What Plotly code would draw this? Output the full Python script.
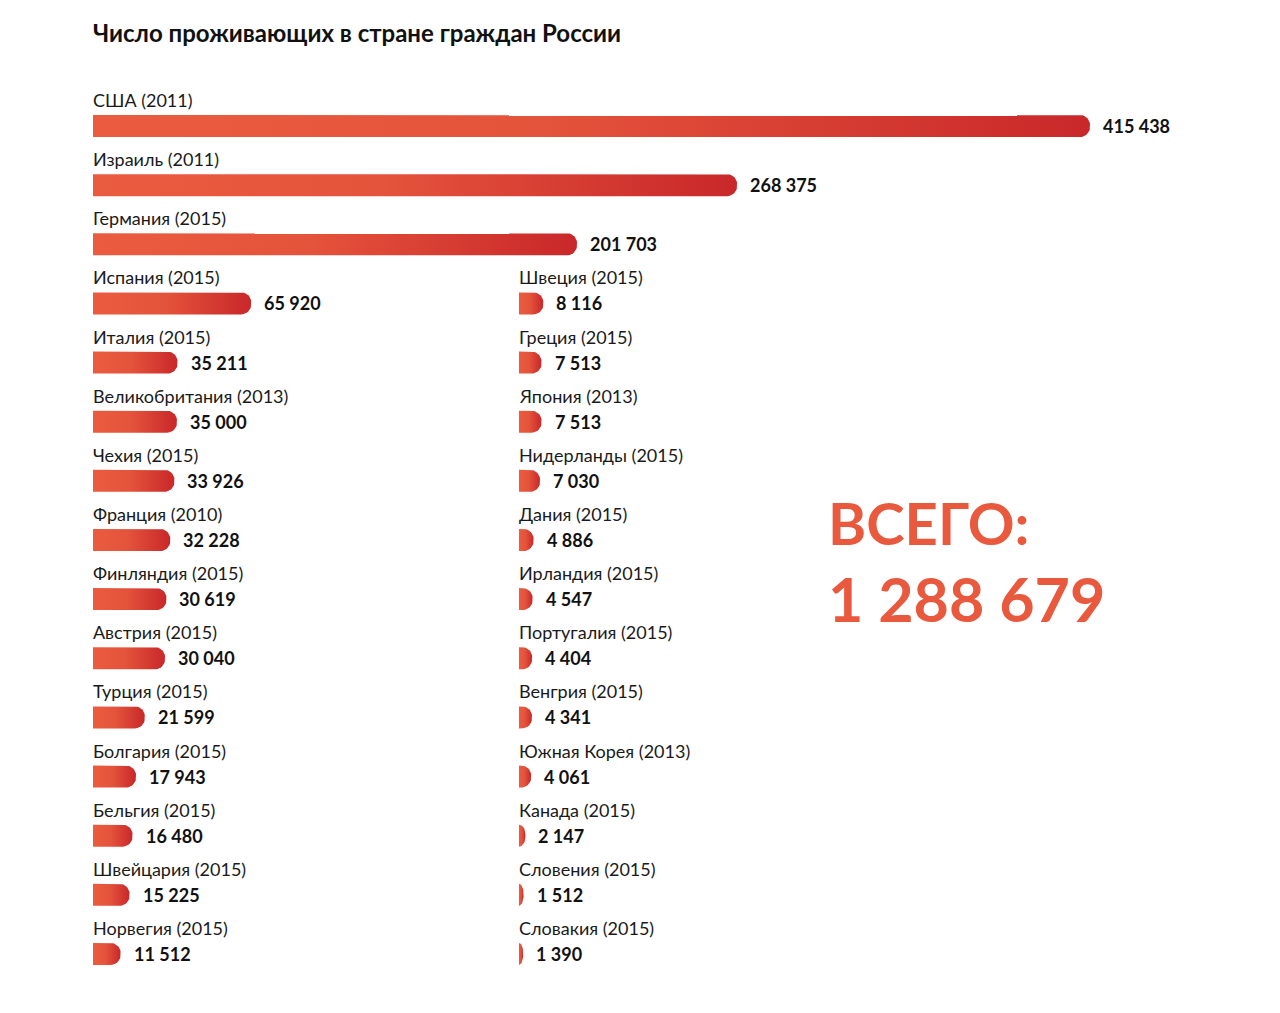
import math
import plotly.graph_objects as go

# ---------------- data ----------------
left_countries = ["США", "Израиль", "Германия", "Испания", "Италия", "Великобритания",
                  "Чехия", "Франция", "Финляндия", "Австрия", "Турция", "Болгария",
                  "Бельгия", "Швейцария", "Норвегия"]
left_years = [2011, 2011, 2015, 2015, 2015, 2013, 2015, 2010, 2015, 2015, 2015, 2015,
              2015, 2015, 2015]
left_values = [415438, 268375, 201703, 65920, 35211, 35000, 33926, 32228, 30619, 30040,
               21599, 17943, 16480, 15225, 11512]

right_countries = ["Швеция", "Греция", "Япония", "Нидерланды", "Дания", "Ирландия",
                   "Португалия", "Венгрия", "Южная Корея", "Канада", "Словения", "Словакия"]
right_years = [2015, 2015, 2013, 2015, 2015, 2015, 2015, 2015, 2013, 2015, 2015, 2015]
right_values = [8116, 7513, 7513, 7030, 4886, 4547, 4404, 4341, 4061, 2147, 1512, 1390]
right_row_offset = 3

title_text = "Число проживающих в стране граждан России"
total_label = "ВСЕГО:"

# ---------------- geometry / style ----------------
W, H = 1280, 1013
ROW_PX = 59.14
ROW0_PX = 126
LEFT_X0 = 93
RIGHT_X0 = 519
K_LEFT = 0.0024      # px per person (left column)
K_RIGHT = 0.003      # px per person (right column)
BAR_HALF_PX = 11
CORNER_PX = 10
FONT = "Lato"
RED = "#E8593D"
GRAD = [[0, "#EA5C3F"], [0.45, "#E4533B"], [1, "#C9282A"]]

y_top = -ROW0_PX / ROW_PX
y_bottom = y_top + H / ROW_PX


def fmt(v):
    return f"{v:,}".replace(",", " ")


def bar_polygon(v, row, k):
    """Bar outline in data coordinates: square left end, rounded right end."""
    w = v * k
    rx = min(CORNER_PX, w)
    ry = CORNER_PX
    h = BAR_HALF_PX
    pts = [(0, -h), (w - rx, -h)]
    cx, cy = w - rx, -h + ry
    for j in range(1, 13):
        p = math.pi / 2 * j / 12
        pts.append((cx + rx * math.sin(p), cy - ry * math.cos(p)))
    cx, cy = w - rx, h - ry
    for j in range(0, 13):
        p = math.pi / 2 * j / 12
        pts.append((cx + rx * math.cos(p), cy + ry * math.sin(p)))
    pts.append((0, h))
    pts.append((0, -h))
    xs = [px / k for px, _ in pts]
    ys = [row + py / ROW_PX for _, py in pts]
    return xs, ys


fig = go.Figure()
annotations = []

columns = [
    (left_countries, left_years, left_values, 0, K_LEFT, "x"),
    (right_countries, right_years, right_values, right_row_offset, K_RIGHT, "x2"),
]

for names, years, values, off, k, xref in columns:
    for i, (nm, yr, v) in enumerate(zip(names, years, values)):
        row = i + off
        xs, ys = bar_polygon(v, row, k)
        fig.add_trace(go.Scatter(
            x=xs, y=ys, mode="lines", fill="toself",
            line=dict(width=0, color="rgba(0,0,0,0)"),
            fillgradient=dict(type="horizontal", colorscale=GRAD),
            hoverinfo="skip", showlegend=False,
            xaxis=xref, yaxis="y",
        ))
        annotations.append(dict(
            x=0, y=row, xref=xref, yref="y", text=f"{nm} ({yr})",
            showarrow=False, xanchor="left", yanchor="middle", yshift=26, xshift=-2,
            font=dict(family=FONT, size=18, color="#1a1a1a"),
        ))
        annotations.append(dict(
            x=v, y=row, xref=xref, yref="y", text=f"<b>{fmt(v)}</b>",
            showarrow=False, xanchor="left", yanchor="middle", xshift=11,
            font=dict(family=FONT, size=18, color="#111111"),
        ))

total = sum(left_values) + sum(right_values)

annotations.append(dict(
    x=LEFT_X0 / W, y=1 - 32 / H, xref="paper", yref="paper",
    text=f"<b>{title_text}</b>", showarrow=False, xanchor="left", yanchor="middle",
    xshift=-2, font=dict(family=FONT, size=24, color="#111111"),
))
annotations.append(dict(
    x=826 / W, y=1 - 522 / H, xref="paper", yref="paper",
    text=f"<b>{total_label}</b>", showarrow=False, xanchor="left", yanchor="middle",
    font=dict(family=FONT, size=58, color=RED),
))
annotations.append(dict(
    x=826 / W, y=1 - 598 / H, xref="paper", yref="paper",
    text=f"<b>{fmt(total)}</b>", showarrow=False, xanchor="left", yanchor="middle",
    font=dict(family=FONT, size=61, color=RED),
))

fig.update_layout(
    width=W, height=H,
    margin=dict(l=0, r=0, t=0, b=0),
    paper_bgcolor="white", plot_bgcolor="rgba(0,0,0,0)",
    xaxis=dict(domain=[LEFT_X0 / W, 1], range=[0, (W - LEFT_X0) / K_LEFT],
               visible=False, fixedrange=True),
    xaxis2=dict(domain=[RIGHT_X0 / W, 1], range=[0, (W - RIGHT_X0) / K_RIGHT],
                visible=False, fixedrange=True, anchor="y"),
    yaxis=dict(domain=[0, 1], range=[y_bottom, y_top], visible=False, fixedrange=True),
    annotations=annotations,
    showlegend=False,
)

fig.write_html("out.html", post_script="document.body.style.margin='0';",
               config={"displayModeBar": False})
